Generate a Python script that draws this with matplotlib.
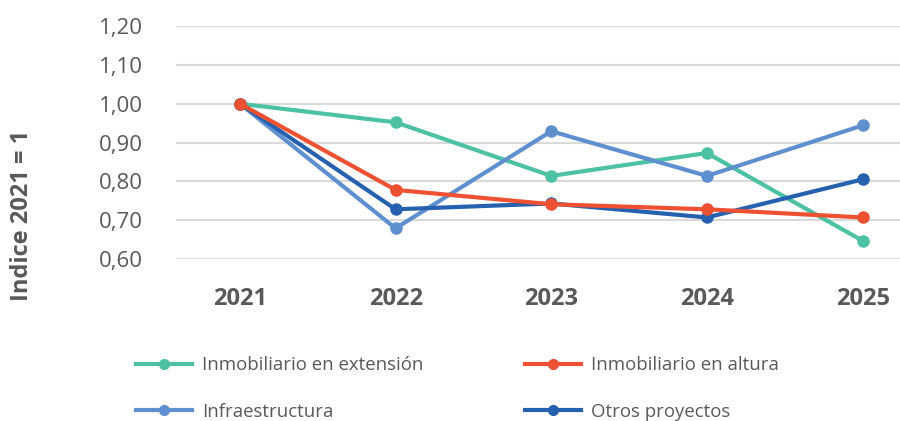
import matplotlib
matplotlib.use("Agg")
import matplotlib.pyplot as plt
from matplotlib.ticker import FuncFormatter

years = ["2021", "2022", "2023", "2024", "2025"]
extension = [1.00, 0.952, 0.814, 0.873, 0.647]
altura = [1.00, 0.778, 0.741, 0.728, 0.707]
infra = [1.00, 0.679, 0.929, 0.814, 0.944]
otros = [1.00, 0.728, 0.743, 0.707, 0.805]

series = [
    ("Inmobiliario en extensión", extension, "#4DC1A4"),
    ("Inmobiliario en altura", altura, "#EE5132"),
    ("Infraestructura", infra, "#5E90CF"),
    ("Otros proyectos", otros, "#2561AE"),
]
zorders = [3, 6, 4, 5]

plt.rcParams['font.family'] = ['Open Sans', 'DejaVu Sans']
txt = "#595959"

fig = plt.figure(figsize=(9, 4.21), dpi=100)
ax = fig.add_axes([0.1956, 0.3848, 0.8044, 0.5534])

x = list(range(len(years)))
handles = []
for (name, vals, col), z in zip(series, zorders):
    h, = ax.plot(x, vals, color=col, lw=3, marker="o", ms=8, label=name,
                 clip_on=False, zorder=z)
    handles.append(h)

ax.set_ylim(0.6, 1.2)
ax.set_yticks([0.6, 0.7, 0.8, 0.9, 1.0, 1.1, 1.2])
ax.yaxis.set_major_formatter(FuncFormatter(lambda v, p: f"{v:.2f}".replace(".", ",")))
ax.set_xlim(-0.41, 4.24)
ax.set_xticks(x)
ax.set_xticklabels(years, fontweight="bold")
ax.grid(axis="y", color="#D9D9D9", lw=1.5)
ax.set_axisbelow(True)
for s in ax.spines.values():
    s.set_visible(False)
ax.tick_params(axis="both", length=0, colors=txt)
ax.tick_params(axis="y", pad=24, labelsize=16)
ax.tick_params(axis="x", pad=20, labelsize=17)

fig.text(0.025, 0.488, "Indice 2021 = 1", rotation=90, ha="center", va="center",
         fontsize=17, fontweight="bold", color=txt)

order = [0, 2, 1, 3]
leg = fig.legend([handles[i] for i in order], [series[i][0] for i in order],
                 ncol=2, loc="upper left", bbox_to_anchor=(0.143, 0.172),
                 frameon=False, fontsize=13.4, handlelength=3.0,
                 columnspacing=5.45, labelspacing=1.55, handletextpad=0.55,
                 borderaxespad=0)
for t in leg.get_texts():
    t.set_color(txt)
for lh in leg.legend_handles:
    lh.set_markersize(7)

fig.savefig("out.png", dpi=100)
